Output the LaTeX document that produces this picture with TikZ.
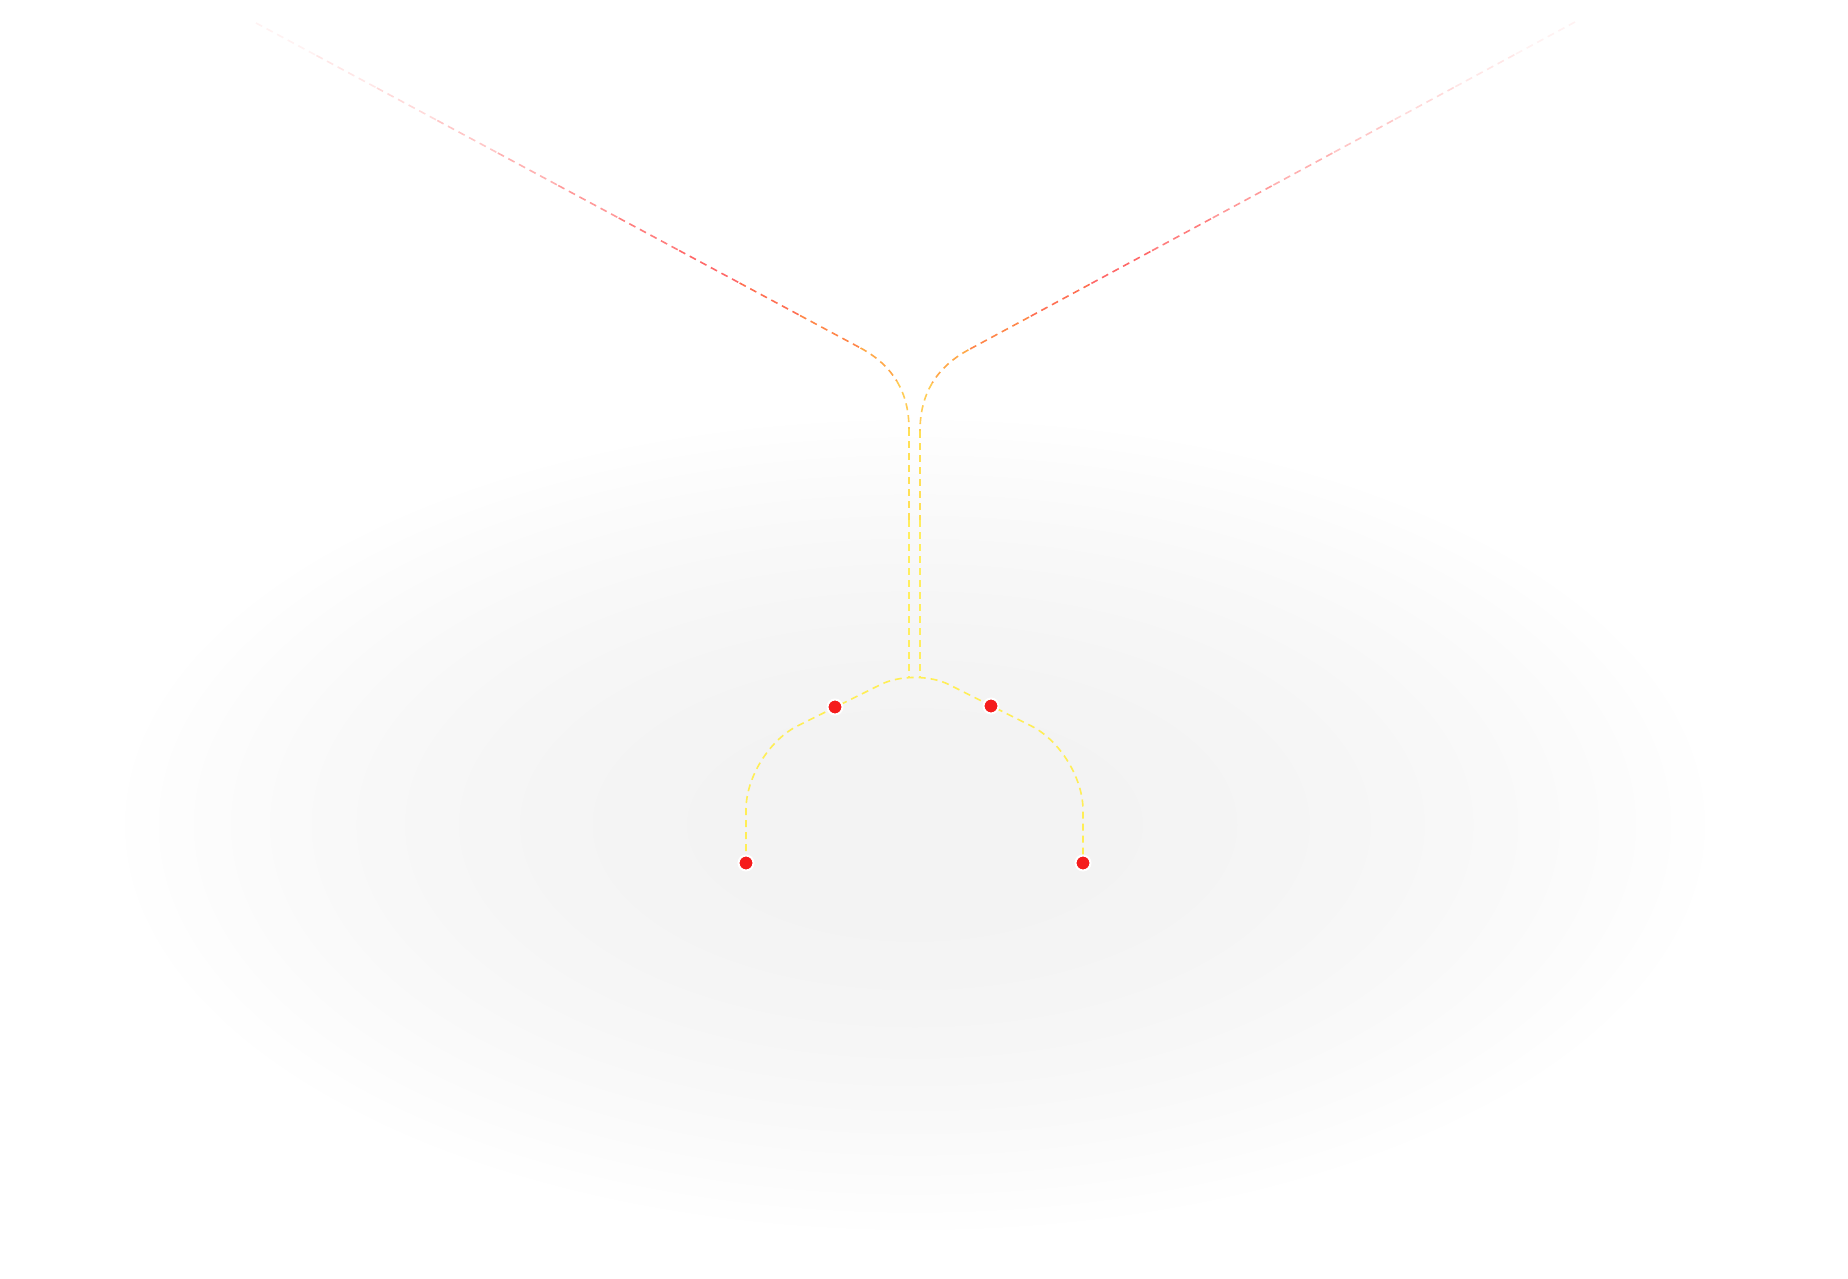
\documentclass[tikz,border=0pt]{standalone}
\usetikzlibrary{calc}
\definecolor{brred}{HTML}{FF4747}
\definecolor{bror1}{HTML}{FF6040}
\definecolor{bror2}{HTML}{FF8040}
\definecolor{bend1}{HTML}{FFA848}
\definecolor{bend2}{HTML}{FFCC55}
\definecolor{vyel1}{HTML}{FFE055}
\definecolor{vyel2}{HTML}{FFEE5E}
\definecolor{ayel}{HTML}{FFEE55}
\definecolor{dotred}{HTML}{F51C1C}
\begin{document}
\begin{tikzpicture}[x=1pt,y=-1pt,
  link/.style={line width=1.6pt, dash pattern=on 7pt off 5pt},
  dot/.style={circle, fill=dotred, draw=white, line width=2pt, minimum size=15pt, inner sep=0pt},
  haze/.style={fill=black, fill opacity=0.0036}]
\useasboundingbox (0,0) rectangle (1848,1279);
\fill[white] (0,0) rectangle (1848,1279);
\begin{scope}
  \clip (0,0) rectangle (1848,1279);
  \foreach \k in {1,...,12}{
    \fill[haze] (915,825) ellipse [x radius={790*sqrt(\k/12)}, y radius={405*sqrt(\k/12)}];
  }
\end{scope}

% left branch
\coordinate (L0) at (256,23);
\coordinate (LA) at (860.5,348);
\coordinate (LM) at (896.9,381.25);
\coordinate (LB) at (909,429);
\coordinate (LV) at (909,520);
\coordinate (LE) at (909,677);
% right branch
\coordinate (R0) at (1575,22);
\coordinate (RA) at (968.4,349.9);
\coordinate (RM) at (932.1,383.2);
\coordinate (RB) at (920,431);
\coordinate (RV) at (920,520);
\coordinate (RE) at (920,677);

\foreach \s/\e/\c/\o in {0/0.1/brred/0.07, 0.1/0.2/brred/0.13, 0.2/0.3/brred/0.2,
  0.3/0.4/brred/0.3, 0.4/0.5/brred/0.42, 0.5/0.6/brred/0.55, 0.6/0.7/brred/0.7,
  0.7/0.8/brred/0.82, 0.8/0.9/bror1/0.9, 0.9/1/bror2/0.95}{
  \draw[link, draw=\c, draw opacity=\o] ($(L0)!\s!(LA)$) -- ($(L0)!\e!(LA)$);
  \draw[link, draw=\c, draw opacity=\o] ($(R0)!\s!(RA)$) -- ($(R0)!\e!(RA)$);
}
\draw[link, draw=bend1] (LA) .. controls (876.7,356.7) and (888.8,367.8) .. (LM);
\draw[link, draw=bend2] (LM) .. controls (905,394.75) and (909,410.7) .. (LB);
\draw[link, draw=bend1] (RA) .. controls (952.3,358.6) and (940.2,369.7) .. (RM);
\draw[link, draw=bend2] (RM) .. controls (924,396.7) and (920,412.7) .. (RB);
\draw[link, draw=vyel1] (LB) -- (LV);
\draw[link, draw=vyel2] (LV) -- (LE);
\draw[link, draw=vyel1] (RB) -- (RV);
\draw[link, draw=vyel2] (RV) -- (RE);

% arc
\coordinate (p1) at (746,863);
\coordinate (p2) at (835,707);
\coordinate (p3) at (991,706);
\coordinate (p4) at (1083,863);
\coordinate (c1) at (746,751.5);
\coordinate (ct) at (915,667.5);
\coordinate (c2) at (1083,752);
\draw[link, draw=ayel, rounded corners=58pt] (p1) -- (c1) [rounded corners=38pt] -- (ct) [rounded corners=58pt] -- (c2) -- (p4);

\node[dot] (d1) at (p1) {};
\node[dot] (d2) at (p2) {};
\node[dot] (d3) at (p3) {};
\node[dot] (d4) at (p4) {};
\end{tikzpicture}
\end{document}
